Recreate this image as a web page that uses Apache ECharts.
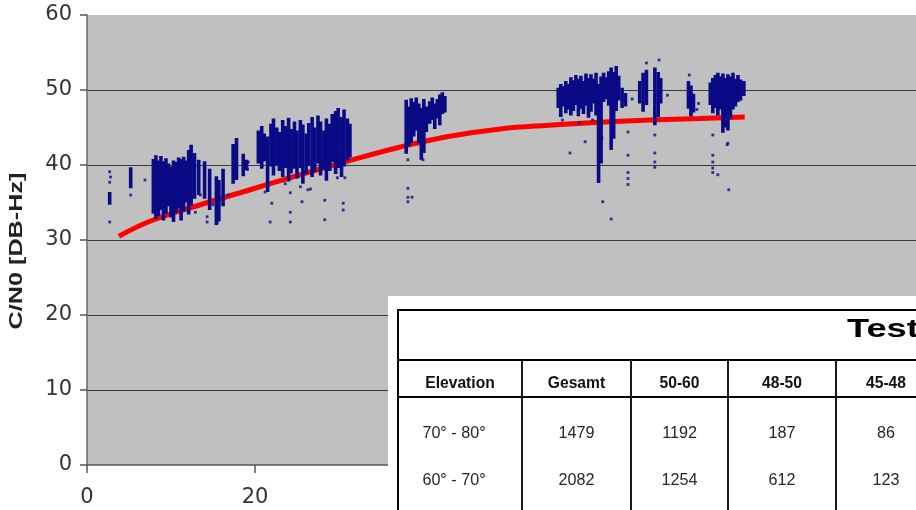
<!DOCTYPE html>
<html>
<head>
<meta charset="utf-8">
<script src="https://cdn.jsdelivr.net/npm/echarts@6/dist/echarts.min.js"></script>
<style>
  html, body { margin: 0; padding: 0; background: #ffffff; }
  #chart { width: 916px; height: 510px; }
</style>
</head>
<body>
<div id="chart"></div>
<script>
// Fitted C/N0 trend over elevation (degrees -> dB-Hz)
const trendElev = [3.8, 7.5, 13.5, 19.4, 25.4, 31, 37.3, 43, 49.2, 55, 61.1, 67, 73, 78.3];
const trendCN0  = [30.5, 32.5, 34.7, 36.7, 38.7, 40.5, 42.4, 43.8, 44.8, 45.3, 45.7, 46.0, 46.2, 46.4];

// Dense measurement columns: [elevation, lowest C/N0, highest C/N0]
const streaks = [
  [2.7, 34.7, 36.4], [5.2, 36.9, 39.7],
  [7.9, 33.5, 40.8], [8.2, 32.8, 41.3], [8.5, 33.2, 40.6], [8.8, 34.0, 41.2], [9.1, 32.6, 40.5],
  [9.4, 33.5, 40.9], [9.7, 34.5, 40.2], [10.0, 33.0, 39.8], [10.3, 32.4, 40.6], [10.6, 33.6, 40.4],
  [10.9, 34.2, 41.0], [11.2, 32.6, 40.8], [11.5, 33.8, 41.1], [11.8, 35.0, 40.6], [12.1, 33.4, 42.0],
  [12.4, 34.6, 42.7], [12.8, 35.5, 41.6], [13.3, 36.0, 40.7], [14.0, 35.5, 40.5], [14.6, 34.0, 39.5],
  [15.4, 32.0, 38.5], [15.7, 32.5, 38.0], [16.2, 34.5, 39.5], [17.4, 37.5, 42.8], [17.8, 38.0, 43.6],
  [18.6, 38.5, 41.5], [19.0, 39.3, 40.7],
  [20.4, 40.2, 44.6], [20.8, 39.5, 45.2], [21.1, 40.5, 44.2], [21.5, 36.4, 43.8], [21.9, 39.8, 45.5],
  [22.2, 38.6, 46.2], [22.6, 40.0, 45.0], [22.9, 39.2, 44.4], [23.3, 38.4, 46.0], [23.6, 39.6, 45.2],
  [24.0, 37.8, 46.3], [24.3, 38.9, 44.8], [24.7, 39.5, 45.8], [25.0, 38.2, 44.6], [25.4, 39.6, 46.0],
  [25.7, 37.5, 45.4], [26.1, 38.8, 44.2], [26.4, 39.9, 45.6], [26.8, 38.4, 46.4], [27.1, 39.1, 45.0],
  [27.5, 40.2, 46.6], [27.8, 38.6, 45.8], [28.2, 39.4, 44.6], [28.5, 37.9, 46.2], [28.9, 39.2, 45.5],
  [29.2, 40.4, 46.8], [29.6, 38.8, 47.2], [29.9, 39.6, 47.6], [30.3, 38.4, 46.4], [30.6, 39.8, 47.4],
  [31.0, 40.6, 46.2], [31.3, 41.0, 45.5],
  [38.0, 41.5, 48.7], [38.3, 42.5, 47.8], [38.6, 42.9, 48.9], [38.9, 43.8, 48.4], [39.2, 44.6, 49.0],
  [39.5, 42.9, 48.2], [39.8, 40.7, 47.6], [40.1, 41.6, 48.8], [40.4, 44.4, 47.8], [40.8, 45.5, 48.5],
  [41.1, 46.0, 49.0], [41.4, 44.8, 48.2], [41.7, 46.2, 48.8], [42.0, 45.3, 49.4], [42.3, 46.8, 49.7],
  [42.6, 47.0, 49.2],
  [56.1, 47.6, 50.3], [56.4, 46.4, 50.8], [56.7, 47.8, 50.5], [57.0, 46.9, 51.2], [57.3, 47.4, 50.8],
  [57.6, 46.6, 51.7], [57.9, 47.2, 51.3], [58.2, 48.0, 52.0], [58.5, 46.5, 51.5], [58.8, 47.5, 51.9],
  [59.1, 46.8, 51.2], [59.4, 47.9, 52.2], [59.7, 46.3, 51.6], [60.0, 47.1, 52.1], [60.3, 48.2, 51.5],
  [60.6, 46.6, 52.3], [60.9, 37.6, 50.8], [61.2, 40.2, 51.8], [61.5, 48.4, 52.3], [61.8, 48.8, 51.7],
  [62.1, 47.9, 52.5], [62.4, 42.0, 53.0], [62.7, 43.5, 52.4], [63.0, 47.2, 53.2], [63.3, 48.6, 51.9],
  [63.7, 47.6, 50.3], [64.1, 47.8, 49.6],
  [65.8, 48.2, 51.2], [66.2, 47.1, 52.3], [66.6, 48.0, 52.7], [67.6, 45.3, 53.0], [68.0, 46.4, 52.4],
  [68.3, 48.2, 51.6],
  [71.6, 47.5, 51.2], [71.9, 46.5, 50.6], [72.2, 47.0, 49.5],
  [74.2, 48.0, 51.0], [74.5, 46.9, 51.6], [74.8, 47.6, 52.0], [75.1, 46.6, 52.3], [75.4, 47.4, 51.8],
  [75.7, 44.3, 52.2], [76.0, 45.0, 51.6], [76.3, 44.6, 52.1], [76.6, 46.2, 51.8], [76.9, 47.4, 52.3],
  [77.2, 47.8, 51.5], [77.5, 48.4, 52.0], [77.8, 48.6, 51.4], [78.2, 49.2, 51.2]
];

// Isolated measurements: [elevation, C/N0]
const dots = [
  [2.7, 39.1], [2.7, 37.7], [2.7, 32.4], [2.8, 38.4], [5.2, 36.0], [6.9, 38.0],
  [12.9, 33.7], [13.5, 36.0], [14.3, 33.1], [14.3, 32.4], [15.0, 34.7], [15.5, 32.3], [16.8, 36.0],
  [19.1, 39.4], [19.2, 40.4],
  [21.2, 36.4], [21.8, 32.4], [22.0, 34.9], [23.6, 37.5], [24.2, 36.3], [24.2, 33.7], [24.2, 32.4],
  [25.4, 37.1], [25.6, 35.1], [26.3, 36.7], [26.6, 36.8], [28.3, 35.3], [28.3, 32.7], [29.8, 38.3],
  [30.5, 34.9], [30.5, 34.0], [30.7, 38.3],
  [38.2, 40.7], [40.0, 40.7], [38.2, 36.9], [38.2, 35.7], [38.2, 35.1], [38.7, 35.7],
  [56.6, 46.0], [57.5, 41.6], [58.6, 45.6], [59.3, 43.1], [60.2, 46.0], [61.1, 44.8], [61.3, 43.6],
  [61.4, 35.1], [62.4, 32.8], [64.4, 44.4], [64.4, 41.3], [64.4, 39.0], [64.4, 38.2], [64.4, 37.4],
  [64.9, 48.8],
  [66.6, 53.6], [67.6, 44.0], [67.6, 41.6], [67.6, 40.4], [67.6, 39.7], [68.1, 54.0], [69.1, 49.3],
  [71.7, 52.0], [72.6, 47.4], [72.8, 48.2],
  [74.5, 44.0], [74.5, 41.3], [74.5, 40.4], [74.5, 39.6], [74.5, 39.0], [75.1, 38.7], [76.2, 42.7],
  [76.3, 42.9], [76.4, 36.7]
];

// Summary table
const tableTitle = 'Test';
const tableHeader = ['Elevation', 'Gesamt', '50-60', '48-50', '45-48'];
const tableRows = [
  ['70° - 80°', '1479', '1192', '187', '86'],
  ['60° - 70°', '2082', '1254', '612', '123']
];

const BLUE = '#0a0a86';
const chart = echarts.init(document.getElementById('chart'), null, { renderer: 'canvas' });

// Table layout (pixels)
const tblLeft = 398, tblTop = 310, headTop = 360, headBottom = 397;
const colEdges = [398, 522, 631, 728, 836, 936];
const headerY = 383;
const rowY = [433, 480];

const graphics = [];
graphics.push({
  type: 'rect', z: 100,
  shape: { x: 388, y: 296, width: 560, height: 230 },
  style: { fill: '#ffffff' }
});
graphics.push({
  type: 'rect', z: 101,
  shape: { x: tblLeft, y: tblTop, width: 560, height: 230 },
  style: { fill: 'none', stroke: '#000000', lineWidth: 2 }
});
[headTop, headBottom].forEach(function (y) {
  graphics.push({
    type: 'line', z: 101,
    shape: { x1: tblLeft, y1: y, x2: 930, y2: y },
    style: { stroke: '#000000', lineWidth: 2 }
  });
});
colEdges.slice(1, -1).forEach(function (x) {
  graphics.push({
    type: 'line', z: 101,
    shape: { x1: x, y1: headTop, x2: x, y2: 520 },
    style: { stroke: '#1a1a1a', lineWidth: 2 }
  });
});
graphics.push({
  type: 'text', z: 102, x: 847, y: 330, scaleX: 1.45,
  style: {
    text: tableTitle, fill: '#000000',
    font: 'bold 25px "Liberation Sans", Arial, sans-serif',
    textAlign: 'left', textVerticalAlign: 'middle', align: 'left', verticalAlign: 'middle'
  }
});
tableHeader.forEach(function (label, i) {
  graphics.push({
    type: 'text', z: 102, x: (colEdges[i] + colEdges[i + 1]) / 2, y: headerY, scaleX: 0.92,
    style: {
      text: label, fill: '#111111',
      font: 'bold 17px "Liberation Sans", Arial, sans-serif',
      textAlign: 'center', textVerticalAlign: 'middle', align: 'center', verticalAlign: 'middle'
    }
  });
});
tableRows.forEach(function (row, r) {
  row.forEach(function (cell, i) {
    let cx = (colEdges[i] + colEdges[i + 1]) / 2;
    if (i === 0) cx -= 6;
    graphics.push({
      type: 'text', z: 102, x: cx, y: rowY[r], scaleX: 0.95,
      style: {
        text: cell, fill: '#262626',
        font: '17px "Liberation Sans", Arial, sans-serif',
        textAlign: 'center', textVerticalAlign: 'middle', align: 'center', verticalAlign: 'middle'
      }
    });
  });
});
// Vertical axis title
graphics.push({
  type: 'text', z: 50, x: 17, y: 251, rotation: Math.PI / 2, scaleX: 1.4,
  style: {
    text: 'C/N0 [DB-Hz]', fill: '#222222',
    font: 'bold 18px "Liberation Sans", Arial, sans-serif',
    textAlign: 'center', textVerticalAlign: 'middle', align: 'center', verticalAlign: 'middle'
  }
});

const option = {
  animation: false,
  backgroundColor: '#ffffff',
  grid: {
    left: 87, top: 15, width: 840, bottom: 45,
    outerBoundsMode: 'none', containLabel: false,
    show: true, backgroundColor: '#c0c0c0', borderWidth: 0
  },
  xAxis: {
    type: 'value', min: 0, max: 100, interval: 20,
    axisLine: { show: true, lineStyle: { color: '#555555', width: 1.5 } },
    axisTick: { show: true, length: 8, lineStyle: { color: '#555555', width: 1.5 } },
    axisLabel: { margin: 22, color: '#333333', fontSize: 21, fontFamily: '"DejaVu Sans", sans-serif' },
    splitLine: { show: false }
  },
  yAxis: {
    type: 'value', min: 0, max: 60, interval: 10,
    axisLine: { show: true, lineStyle: { color: '#6a6a6a', width: 1.5 } },
    axisTick: { show: true, length: 7, lineStyle: { color: '#555555', width: 1.5 } },
    axisLabel: { margin: 15, color: '#333333', fontSize: 21, fontFamily: '"DejaVu Sans", sans-serif' },
    splitLine: {
      show: true, showMinLine: false, showMaxLine: false,
      lineStyle: { color: '#3a3a3a', width: 1.2 }
    }
  },
  series: [
    {
      type: 'line', name: 'trend', z: 2,
      data: trendElev.map(function (x, i) { return [x, trendCN0[i]]; }),
      smooth: 0.4, showSymbol: false, symbol: 'none',
      lineStyle: { color: '#ff0000', width: 5 }
    },
    {
      type: 'custom', name: 'columns', z: 3,
      data: streaks,
      encode: { x: 0, y: [1, 2] },
      renderItem: function (params, api) {
        const top = api.coord([api.value(0), api.value(2)]);
        const bot = api.coord([api.value(0), api.value(1)]);
        return {
          type: 'rect',
          shape: { x: top[0] - 1.8, y: top[1], width: 3.6, height: Math.max(bot[1] - top[1], 2) },
          style: { fill: BLUE }
        };
      }
    },
    {
      type: 'scatter', name: 'points', z: 3,
      data: dots, symbol: 'rect', symbolSize: [2.8, 2.8],
      itemStyle: { color: BLUE }
    }
  ],
  graphic: { elements: graphics }
};
chart.setOption(option);
</script>
</body>
</html>
